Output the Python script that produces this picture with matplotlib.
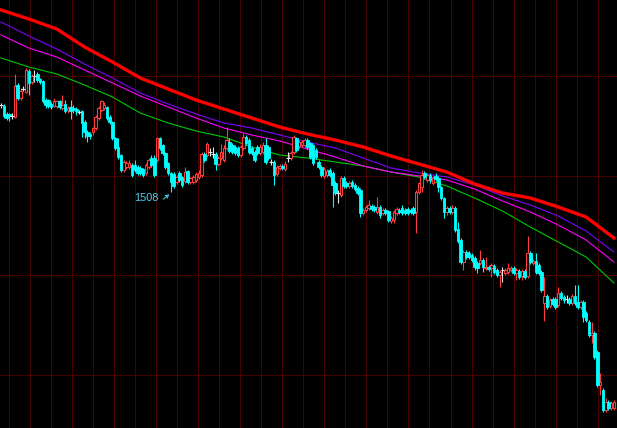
import numpy as np
import matplotlib
matplotlib.use("Agg")
import matplotlib.pyplot as plt

# daily candles (price units)
opens = [
    1595, 1594, 1586, 1586, 1584, 1583, 1615, 1602, 1611, 1608, 1629, 1618, 1624, 1626, 1621, 1619, 1600, 1600, 1596,
    1594, 1594, 1599, 1592, 1596, 1590, 1593, 1592, 1591, 1588, 1589, 1578, 1568, 1566, 1568, 1572, 1582, 1590, 1592,
    1593, 1583, 1578, 1562, 1553, 1545, 1530, 1533, 1533, 1535, 1535, 1533, 1532, 1531, 1527, 1533, 1542, 1542, 1540,
    1562, 1555, 1547, 1537, 1527, 1526, 1518, 1527, 1523, 1519, 1529, 1518, 1518, 1520, 1523, 1525, 1546, 1545,
    1548, 1546, 1546, 1536, 1542, 1540, 1552, 1558, 1555, 1553, 1552, 1545, 1552, 1563, 1560, 1552, 1548, 1553, 1547,
    1548, 1555, 1553, 1538, 1538, 1526, 1532, 1534, 1531, 1542, 1542, 1548, 1562, 1554, 1555, 1555, 1560, 1557, 1555,
    1550, 1538, 1533, 1524, 1525, 1530, 1527, 1517, 1507, 1505, 1522, 1517, 1514, 1518, 1515, 1512, 1510, 1487, 1490,
    1492, 1494, 1493, 1488, 1493, 1487, 1490, 1489, 1479, 1480, 1487, 1490, 1492, 1490, 1491, 1490, 1492, 1488, 1508,
    1513, 1527, 1520, 1525, 1517, 1524, 1522, 1513, 1502, 1488, 1492, 1488, 1492, 1471, 1460, 1438, 1448, 1447,
    1445, 1442, 1437, 1437, 1440, 1432, 1433, 1432, 1434, 1430, 1425, 1430, 1427, 1428, 1430, 1432, 1427, 1429,
    1424, 1429, 1424, 1447, 1437, 1439, 1435, 1428, 1397, 1404, 1394, 1401, 1401, 1395, 1407, 1403, 1401,
    1401, 1397, 1404, 1398, 1393, 1398, 1387, 1378, 1365, 1367, 1348, 1315, 1310, 1290, 1298, 1292, 1292,
]
highs = [
    1597, 1596, 1588, 1587, 1587, 1626, 1617, 1612, 1614, 1632, 1631, 1626, 1630, 1628, 1622, 1620, 1602, 1601, 1598,
    1602, 1600, 1600, 1605, 1600, 1594, 1600, 1595, 1593, 1590, 1590, 1580, 1570, 1568, 1573, 1585, 1594, 1600, 1598,
    1594, 1585, 1579, 1563, 1562, 1546, 1540, 1539, 1540, 1537, 1540, 1535, 1534, 1532, 1537, 1542, 1545, 1545, 1563,
    1563, 1556, 1548, 1538, 1528, 1528, 1525, 1529, 1524, 1533, 1530, 1523, 1525, 1528, 1530, 1548, 1548, 1558,
    1552, 1553, 1548, 1544, 1556, 1555, 1573, 1562, 1557, 1555, 1554, 1555, 1567, 1565, 1562, 1554, 1550, 1555, 1556,
    1558, 1562, 1555, 1541, 1540, 1535, 1536, 1536, 1539, 1548, 1549, 1565, 1563, 1560, 1560, 1562, 1562, 1558, 1556,
    1552, 1540, 1535, 1533, 1531, 1532, 1529, 1519, 1510, 1524, 1524, 1519, 1519, 1520, 1517, 1514, 1512, 1492, 1495,
    1500, 1496, 1495, 1503, 1495, 1492, 1492, 1490, 1484, 1490, 1493, 1492, 1495, 1492, 1493, 1492, 1494, 1510, 1518,
    1530, 1529, 1527, 1527, 1524, 1527, 1524, 1514, 1503, 1494, 1494, 1495, 1494, 1478, 1462, 1450, 1450, 1449,
    1447, 1444, 1439, 1450, 1442, 1443, 1435, 1437, 1436, 1432, 1430, 1433, 1432, 1437, 1434, 1434, 1432, 1431,
    1431, 1431, 1464, 1449, 1441, 1447, 1437, 1430, 1423, 1406, 1402, 1403, 1403, 1413, 1409, 1405, 1405,
    1403, 1406, 1415, 1415, 1400, 1400, 1389, 1380, 1378, 1369, 1350, 1327, 1312, 1302, 1300, 1299, 1300,
]
lows = [
    1592, 1582, 1580, 1579, 1581, 1582, 1600, 1600, 1609, 1607, 1605, 1616, 1618, 1618, 1616, 1597, 1592, 1592, 1591,
    1593, 1592, 1591, 1590, 1587, 1587, 1581, 1587, 1585, 1586, 1563, 1562, 1558, 1561, 1565, 1570, 1580, 1588, 1590,
    1580, 1576, 1560, 1550, 1541, 1528, 1528, 1531, 1531, 1523, 1528, 1525, 1525, 1523, 1525, 1531, 1533, 1523, 1538,
    1550, 1545, 1531, 1525, 1508, 1512, 1516, 1518, 1513, 1517, 1516, 1516, 1516, 1518, 1521, 1523, 1538, 1543,
    1544, 1542, 1530, 1534, 1540, 1538, 1550, 1547, 1546, 1545, 1543, 1543, 1550, 1555, 1546, 1545, 1538, 1545, 1545,
    1546, 1536, 1540, 1535, 1515, 1524, 1530, 1530, 1529, 1538, 1540, 1546, 1548, 1552, 1553, 1553, 1551, 1541, 1535,
    1541, 1531, 1523, 1522, 1523, 1523, 1493, 1505, 1497, 1503, 1512, 1512, 1512, 1512, 1509, 1505, 1483, 1485, 1488,
    1490, 1489, 1488, 1486, 1482, 1485, 1485, 1478, 1477, 1477, 1485, 1486, 1485, 1485, 1485, 1486, 1485, 1467, 1506,
    1508, 1521, 1518, 1517, 1515, 1519, 1508, 1500, 1482, 1485, 1486, 1486, 1468, 1457, 1436, 1430, 1441, 1441,
    1438, 1430, 1427, 1435, 1428, 1430, 1429, 1423, 1426, 1423, 1413, 1418, 1425, 1426, 1428, 1425, 1420, 1421,
    1420, 1421, 1422, 1436, 1435, 1426, 1425, 1408, 1379, 1391, 1392, 1394, 1391, 1393, 1400, 1397, 1397,
    1395, 1395, 1395, 1391, 1391, 1378, 1378, 1363, 1357, 1341, 1313, 1305, 1288, 1288, 1290, 1290, 1290,
]
closes = [
    1595, 1584, 1582, 1584, 1584, 1614, 1602, 1609, 1611, 1630, 1617, 1624, 1624, 1620, 1618, 1599, 1595, 1594, 1593,
    1599, 1599, 1593, 1595, 1589, 1592, 1589, 1590, 1589, 1588, 1577, 1568, 1564, 1564, 1572, 1583, 1592, 1599, 1595,
    1582, 1578, 1562, 1552, 1543, 1530, 1538, 1537, 1537, 1525, 1530, 1527, 1527, 1525, 1535, 1540, 1535, 1525, 1562,
    1552, 1547, 1533, 1527, 1518, 1514, 1523, 1520, 1515, 1528, 1518, 1522, 1523, 1526, 1527, 1546, 1540, 1556,
    1548, 1546, 1536, 1542, 1548, 1552, 1560, 1549, 1548, 1547, 1545, 1553, 1563, 1557, 1548, 1547, 1540, 1547, 1553,
    1555, 1538, 1542, 1538, 1525, 1533, 1534, 1532, 1536, 1542, 1547, 1563, 1550, 1558, 1558, 1560, 1553, 1543, 1537,
    1543, 1533, 1525, 1531, 1529, 1525, 1515, 1507, 1507, 1522, 1514, 1514, 1517, 1514, 1511, 1507, 1487, 1490, 1493,
    1495, 1491, 1490, 1493, 1485, 1490, 1487, 1480, 1482, 1488, 1491, 1488, 1487, 1487, 1487, 1488, 1487, 1508, 1517,
    1525, 1523, 1525, 1520, 1522, 1521, 1513, 1502, 1488, 1492, 1488, 1492, 1470, 1459, 1438, 1448, 1443, 1443,
    1440, 1433, 1432, 1440, 1433, 1433, 1431, 1435, 1428, 1425, 1428, 1430, 1430, 1432, 1432, 1427, 1430, 1423,
    1429, 1423, 1447, 1438, 1439, 1428, 1427, 1410, 1404, 1393, 1400, 1396, 1393, 1407, 1402, 1400, 1401,
    1397, 1404, 1397, 1393, 1398, 1383, 1380, 1365, 1367, 1343, 1315, 1318, 1290, 1298, 1292, 1297, 1298,
]

# moving averages, sampled every 10 bars
ma_x = list(range(0, 221, 10))
ma_red = [1690, 1681, 1671, 1653, 1638, 1622, 1611, 1600, 1591, 1582, 1573, 1566,
          1560, 1553, 1544, 1536, 1528, 1516, 1507, 1502, 1493, 1483, 1462]
ma_purple = [1678, 1664, 1651, 1636, 1622, 1607, 1596, 1586, 1577, 1572, 1565, 1558,
             1552, 1542, 1532, 1527, 1523, 1515, 1504, 1495, 1484, 1469, 1448]
ma_magenta = [1665, 1652, 1643, 1630, 1617, 1604, 1593, 1582, 1572, 1565, 1559, 1551,
              1543, 1534, 1528, 1524, 1520, 1511, 1499, 1488, 1475, 1460, 1438]
ma_green = [1642, 1633, 1626, 1615, 1603, 1587, 1577, 1569, 1563, 1553, 1545, 1542,
            1538, 1534, 1528, 1523, 1514, 1502, 1489, 1473, 1458, 1443, 1417]

price_grid = [1324.5, 1424.5, 1523.5, 1623.5]

low_label = "1508"
low_bar = 61

UP = "#ff3c3c"
DOWN = "#00ffff"
DOJI = "#e6e6e6"
GRID = "#4a0000"

o = np.array(opens)
h = np.array(highs)
l = np.array(lows)
c = np.array(closes)
x = np.arange(len(o))

fig = plt.figure(figsize=(6.17, 4.28), dpi=100, facecolor="black")
ax = fig.add_axes([0, 0, 1, 1])
ax.set_facecolor("black")

# grid
ax.set_xticks(np.arange(3.0, 221, 7.54))
ax.set_yticks([])
ax.grid(True, axis="x", color=GRID, linewidth=0.72)
ax.set_axisbelow(True)
for py in price_grid:
    ax.axhspan(py - 0.5, py + 0.5, color=GRID, lw=0, zorder=0.5)
ax.tick_params(length=0, labelbottom=False, labelleft=False)
for s in ax.spines.values():
    s.set_visible(False)

# moving averages
ax.plot(ma_x, ma_green, color="#00c800", lw=0.8, zorder=2)
ax.plot(ma_x, ma_magenta, color="#ff00ff", lw=0.8, zorder=2)
ax.plot(ma_x, ma_purple, color="#8000ff", lw=0.8, zorder=2)
ax.plot(ma_x, ma_red, color="#ff0000", lw=2.4, zorder=2)

up = c > o
down = c < o
doji = c == o
w = 0.92

# wicks
cols = np.where(up, UP, np.where(down, DOWN, DOJI))
ax.vlines(x, l, h, colors=cols, lw=0.8, zorder=3)

# bodies: red hollow, cyan filled
ax.bar(x[up], c[up] - o[up], bottom=o[up], width=w, facecolor="black",
       edgecolor=UP, linewidth=0.8, zorder=4)
ax.bar(x[down], o[down] - c[down], bottom=c[down], width=w, color=DOWN,
       edgecolor=DOWN, linewidth=0.6, zorder=4)
ax.hlines(c[doji], x[doji] - w / 2 - 0.2, x[doji] + w / 2 + 0.2, colors=DOJI, lw=0.8, zorder=4)

# lowest point marker
ax.text(low_bar - 13.3, int(low_label) - 9, low_label, color="#4fd0f0",
        fontsize=7.8, family="Liberation Sans", ha="left", va="baseline", zorder=5)
ax.annotate("", xy=(low_bar + 0.2, int(low_label) - 0.5), xytext=(low_bar - 3.5, int(low_label) - 9),
            arrowprops=dict(arrowstyle="->", color="#4fd0f0", lw=0.7, mutation_scale=6), zorder=5)

ax.set_xlim(-0.36, 221.1)
ax.set_ylim(1272, 1700)

fig.savefig("out.png", dpi=100, facecolor="black")
